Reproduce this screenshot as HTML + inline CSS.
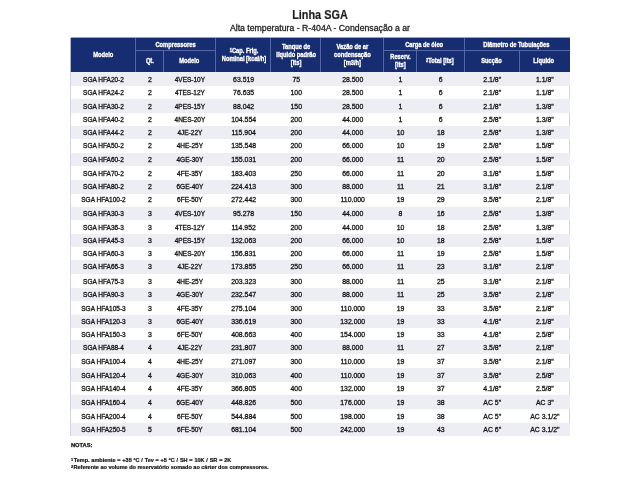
<!DOCTYPE html>
<html><head><meta charset="utf-8"><style>
*{margin:0;padding:0;box-sizing:border-box}
body>div{will-change:transform}
html,body{width:640px;height:480px;background:#fff;overflow:hidden;position:relative;font-family:"Liberation Sans",sans-serif}
.a{position:absolute}
.t{position:absolute;white-space:nowrap;text-align:center}
.h{position:absolute;display:flex;align-items:center;justify-content:center;color:#fff;font-weight:bold;font-size:7.0px;line-height:8px;text-align:center}
.h span{-webkit-text-stroke:0.35px #fff;position:relative;top:0.6px;display:inline-block;transform:scaleX(0.82);white-space:nowrap}
.r{position:absolute;left:70.5px;width:499.0px}
.c{-webkit-text-stroke:0.3px #161616;padding-top:0.4px;position:absolute;top:0;height:100%;display:flex;align-items:center;justify-content:center;font-size:6.5px;color:#161616;white-space:nowrap}
sup{font-size:70%;vertical-align:top;position:relative;top:-0.1em}
</style></head><body>
<div class="t" style="left:0;width:640px;top:8px;font-size:12.5px;font-weight:bold;color:#1e1e1e;line-height:14px"><span style="display:inline-block;transform:scaleX(0.87);-webkit-text-stroke:0.2px #1e1e1e">Linha SGA</span></div>
<div class="t" style="left:0;width:640px;top:22.5px;font-size:8.8px;color:#1e1e1e;line-height:10px"><span style="display:inline-block;transform:scaleX(0.99);-webkit-text-stroke:0.3px #1e1e1e">Alta temperatura - R-404A - Condensação a ar</span></div>

<div class="a" style="left:70.5px;top:37.5px;width:499.0px;height:34.3px;background:#172d72;box-shadow:0 -1px 0 rgba(23,45,114,0.45),-1px 0 0 rgba(23,45,114,0.35)"></div>
<div class="a" style="left:135.0px;top:37.5px;width:1px;height:34.3px;background:#5566a6"></div>
<div class="a" style="left:215.0px;top:37.5px;width:1px;height:34.3px;background:#5566a6"></div>
<div class="a" style="left:270.25px;top:37.5px;width:1px;height:34.3px;background:#5566a6"></div>
<div class="a" style="left:320.25px;top:37.5px;width:1px;height:34.3px;background:#5566a6"></div>
<div class="a" style="left:383.25px;top:37.5px;width:1px;height:34.3px;background:#5566a6"></div>
<div class="a" style="left:463.75px;top:37.5px;width:1px;height:34.3px;background:#5566a6"></div>
<div class="a" style="left:162.75px;top:50.25px;width:1px;height:21.549999999999997px;background:#5566a6"></div>
<div class="a" style="left:415.75px;top:50.25px;width:1px;height:21.549999999999997px;background:#5566a6"></div>
<div class="a" style="left:518.75px;top:50.25px;width:1px;height:21.549999999999997px;background:#5566a6"></div>
<div class="a" style="left:135.5px;top:49.75px;width:80.0px;height:1px;background:#5566a6"></div>
<div class="a" style="left:383.75px;top:49.75px;width:185.75px;height:1px;background:#5566a6"></div>
<div class="h" style="left:70.5px;top:37.5px;width:65.0px;height:34.3px"><span style="top:-0.3px">Modelo</span></div>
<div class="h" style="left:135.5px;top:37.5px;width:80.0px;height:12.75px"><span style="top:0.6px">Compressores</span></div>
<div class="h" style="left:135.5px;top:50.25px;width:27.75px;height:21.549999999999997px"><span style="top:0.6px">Qt.</span></div>
<div class="h" style="left:163.25px;top:50.25px;width:52.25px;height:21.549999999999997px"><span style="top:0.6px">Modelo</span></div>
<div class="h" style="left:215.5px;top:37.5px;width:55.25px;height:34.3px"><span style="top:0.2px"><sup>1</sup>Cap. Frig.<br>Nominal [kcal/h]</span></div>
<div class="h" style="left:270.75px;top:37.5px;width:50.0px;height:34.3px"><span style="top:-0.3px">Tanque de<br>líquido padrão<br>[lts]</span></div>
<div class="h" style="left:320.75px;top:37.5px;width:63.0px;height:34.3px"><span style="top:-0.2px">Vazão de ar<br>condensação<br>[m3/h]</span></div>
<div class="h" style="left:383.75px;top:37.5px;width:80.5px;height:12.75px"><span style="top:0.6px">Carga de óleo</span></div>
<div class="h" style="left:383.75px;top:50.25px;width:32.5px;height:21.549999999999997px"><span style="top:0.6px">Reserv.<br>[lts]</span></div>
<div class="h" style="left:416.25px;top:50.25px;width:48.0px;height:21.549999999999997px"><span style="top:0.6px"><sup>2</sup>Total [lts]</span></div>
<div class="h" style="left:464.25px;top:37.5px;width:105.25px;height:12.75px"><span style="top:0.6px">Diâmetro de Tubulações</span></div>
<div class="h" style="left:464.25px;top:50.25px;width:55.0px;height:21.549999999999997px"><span style="top:0.6px">Sucção</span></div>
<div class="h" style="left:519.25px;top:50.25px;width:50.25px;height:21.549999999999997px"><span style="top:0.6px">Líquido</span></div>
<div class="a" style="left:70.0px;top:71.8px;width:500.0px;height:364.0px;border:1px solid #d3d3e3;border-top:none"></div>
<div class="r" style="top:72.00px;height:13.70px;background:#ededf4"><div class="c" style="left:0.0px;width:65.0px">SGA HFA20-2</div><div class="c" style="left:65.0px;width:27.75px;font-size:6.9px">2</div><div class="c" style="left:92.75px;width:52.25px">4VES-10Y</div><div class="c" style="left:145.0px;width:55.25px;font-size:6.9px">63.519</div><div class="c" style="left:200.25px;width:50.0px;font-size:6.9px">75</div><div class="c" style="left:250.25px;width:63.0px;font-size:6.9px">28.500</div><div class="c" style="left:313.25px;width:32.5px;font-size:6.9px">1</div><div class="c" style="left:345.75px;width:48.0px;font-size:6.9px">6</div><div class="c" style="left:393.75px;width:55.0px;font-size:6.9px">2.1/8"</div><div class="c" style="left:448.75px;width:50.25px;font-size:6.9px">1.1/8"</div></div>
<div class="r" style="top:85.70px;height:13.05px;background:transparent"><div class="c" style="left:0.0px;width:65.0px">SGA HFA24-2</div><div class="c" style="left:65.0px;width:27.75px;font-size:6.9px">2</div><div class="c" style="left:92.75px;width:52.25px">4TES-12Y</div><div class="c" style="left:145.0px;width:55.25px;font-size:6.9px">76.635</div><div class="c" style="left:200.25px;width:50.0px;font-size:6.9px">100</div><div class="c" style="left:250.25px;width:63.0px;font-size:6.9px">28.500</div><div class="c" style="left:313.25px;width:32.5px;font-size:6.9px">1</div><div class="c" style="left:345.75px;width:48.0px;font-size:6.9px">6</div><div class="c" style="left:393.75px;width:55.0px;font-size:6.9px">2.1/8"</div><div class="c" style="left:448.75px;width:50.25px;font-size:6.9px">1.1/8"</div></div>
<div class="r" style="top:98.75px;height:13.75px;background:#ededf4"><div class="c" style="left:0.0px;width:65.0px">SGA HFA30-2</div><div class="c" style="left:65.0px;width:27.75px;font-size:6.9px">2</div><div class="c" style="left:92.75px;width:52.25px">4PES-15Y</div><div class="c" style="left:145.0px;width:55.25px;font-size:6.9px">88.042</div><div class="c" style="left:200.25px;width:50.0px;font-size:6.9px">150</div><div class="c" style="left:250.25px;width:63.0px;font-size:6.9px">28.500</div><div class="c" style="left:313.25px;width:32.5px;font-size:6.9px">1</div><div class="c" style="left:345.75px;width:48.0px;font-size:6.9px">6</div><div class="c" style="left:393.75px;width:55.0px;font-size:6.9px">2.1/8"</div><div class="c" style="left:448.75px;width:50.25px;font-size:6.9px">1.3/8"</div></div>
<div class="r" style="top:112.50px;height:13.10px;background:transparent"><div class="c" style="left:0.0px;width:65.0px">SGA HFA40-2</div><div class="c" style="left:65.0px;width:27.75px;font-size:6.9px">2</div><div class="c" style="left:92.75px;width:52.25px">4NES-20Y</div><div class="c" style="left:145.0px;width:55.25px;font-size:6.9px">104.554</div><div class="c" style="left:200.25px;width:50.0px;font-size:6.9px">200</div><div class="c" style="left:250.25px;width:63.0px;font-size:6.9px">44.000</div><div class="c" style="left:313.25px;width:32.5px;font-size:6.9px">1</div><div class="c" style="left:345.75px;width:48.0px;font-size:6.9px">6</div><div class="c" style="left:393.75px;width:55.0px;font-size:6.9px">2.5/8"</div><div class="c" style="left:448.75px;width:50.25px;font-size:6.9px">1.3/8"</div></div>
<div class="r" style="top:125.60px;height:13.40px;background:#ededf4"><div class="c" style="left:0.0px;width:65.0px">SGA HFA44-2</div><div class="c" style="left:65.0px;width:27.75px;font-size:6.9px">2</div><div class="c" style="left:92.75px;width:52.25px">4JE-22Y</div><div class="c" style="left:145.0px;width:55.25px;font-size:6.9px">115.904</div><div class="c" style="left:200.25px;width:50.0px;font-size:6.9px">200</div><div class="c" style="left:250.25px;width:63.0px;font-size:6.9px">44.000</div><div class="c" style="left:313.25px;width:32.5px;font-size:6.9px">10</div><div class="c" style="left:345.75px;width:48.0px;font-size:6.9px">18</div><div class="c" style="left:393.75px;width:55.0px;font-size:6.9px">2.5/8"</div><div class="c" style="left:448.75px;width:50.25px;font-size:6.9px">1.3/8"</div></div>
<div class="r" style="top:139.00px;height:13.55px;background:transparent"><div class="c" style="left:0.0px;width:65.0px">SGA HFA50-2</div><div class="c" style="left:65.0px;width:27.75px;font-size:6.9px">2</div><div class="c" style="left:92.75px;width:52.25px">4HE-25Y</div><div class="c" style="left:145.0px;width:55.25px;font-size:6.9px">135.548</div><div class="c" style="left:200.25px;width:50.0px;font-size:6.9px">200</div><div class="c" style="left:250.25px;width:63.0px;font-size:6.9px">66.000</div><div class="c" style="left:313.25px;width:32.5px;font-size:6.9px">10</div><div class="c" style="left:345.75px;width:48.0px;font-size:6.9px">19</div><div class="c" style="left:393.75px;width:55.0px;font-size:6.9px">2.5/8"</div><div class="c" style="left:448.75px;width:50.25px;font-size:6.9px">1.5/8"</div></div>
<div class="r" style="top:152.55px;height:13.05px;background:#ededf4"><div class="c" style="left:0.0px;width:65.0px">SGA HFA60-2</div><div class="c" style="left:65.0px;width:27.75px;font-size:6.9px">2</div><div class="c" style="left:92.75px;width:52.25px">4GE-30Y</div><div class="c" style="left:145.0px;width:55.25px;font-size:6.9px">155.031</div><div class="c" style="left:200.25px;width:50.0px;font-size:6.9px">200</div><div class="c" style="left:250.25px;width:63.0px;font-size:6.9px">66.000</div><div class="c" style="left:313.25px;width:32.5px;font-size:6.9px">11</div><div class="c" style="left:345.75px;width:48.0px;font-size:6.9px">20</div><div class="c" style="left:393.75px;width:55.0px;font-size:6.9px">2.5/8"</div><div class="c" style="left:448.75px;width:50.25px;font-size:6.9px">1.5/8"</div></div>
<div class="r" style="top:165.60px;height:14.10px;background:transparent"><div class="c" style="left:0.0px;width:65.0px">SGA HFA70-2</div><div class="c" style="left:65.0px;width:27.75px;font-size:6.9px">2</div><div class="c" style="left:92.75px;width:52.25px">4FE-35Y</div><div class="c" style="left:145.0px;width:55.25px;font-size:6.9px">183.403</div><div class="c" style="left:200.25px;width:50.0px;font-size:6.9px">250</div><div class="c" style="left:250.25px;width:63.0px;font-size:6.9px">66.000</div><div class="c" style="left:313.25px;width:32.5px;font-size:6.9px">11</div><div class="c" style="left:345.75px;width:48.0px;font-size:6.9px">20</div><div class="c" style="left:393.75px;width:55.0px;font-size:6.9px">3.1/8"</div><div class="c" style="left:448.75px;width:50.25px;font-size:6.9px">1.5/8"</div></div>
<div class="r" style="top:179.70px;height:13.50px;background:#ededf4"><div class="c" style="left:0.0px;width:65.0px">SGA HFA80-2</div><div class="c" style="left:65.0px;width:27.75px;font-size:6.9px">2</div><div class="c" style="left:92.75px;width:52.25px">6GE-40Y</div><div class="c" style="left:145.0px;width:55.25px;font-size:6.9px">224.413</div><div class="c" style="left:200.25px;width:50.0px;font-size:6.9px">300</div><div class="c" style="left:250.25px;width:63.0px;font-size:6.9px">88.000</div><div class="c" style="left:313.25px;width:32.5px;font-size:6.9px">11</div><div class="c" style="left:345.75px;width:48.0px;font-size:6.9px">21</div><div class="c" style="left:393.75px;width:55.0px;font-size:6.9px">3.1/8"</div><div class="c" style="left:448.75px;width:50.25px;font-size:6.9px">2.1/8"</div></div>
<div class="r" style="top:193.20px;height:13.60px;background:transparent"><div class="c" style="left:0.0px;width:65.0px">SGA HFA100-2</div><div class="c" style="left:65.0px;width:27.75px;font-size:6.9px">2</div><div class="c" style="left:92.75px;width:52.25px">6FE-50Y</div><div class="c" style="left:145.0px;width:55.25px;font-size:6.9px">272.442</div><div class="c" style="left:200.25px;width:50.0px;font-size:6.9px">300</div><div class="c" style="left:250.25px;width:63.0px;font-size:6.9px">110.000</div><div class="c" style="left:313.25px;width:32.5px;font-size:6.9px">19</div><div class="c" style="left:345.75px;width:48.0px;font-size:6.9px">29</div><div class="c" style="left:393.75px;width:55.0px;font-size:6.9px">3.5/8"</div><div class="c" style="left:448.75px;width:50.25px;font-size:6.9px">2.1/8"</div></div>
<div class="r" style="top:206.80px;height:13.00px;background:#ededf4"><div class="c" style="left:0.0px;width:65.0px">SGA HFA30-3</div><div class="c" style="left:65.0px;width:27.75px;font-size:6.9px">3</div><div class="c" style="left:92.75px;width:52.25px">4VES-10Y</div><div class="c" style="left:145.0px;width:55.25px;font-size:6.9px">95.278</div><div class="c" style="left:200.25px;width:50.0px;font-size:6.9px">150</div><div class="c" style="left:250.25px;width:63.0px;font-size:6.9px">44.000</div><div class="c" style="left:313.25px;width:32.5px;font-size:6.9px">8</div><div class="c" style="left:345.75px;width:48.0px;font-size:6.9px">16</div><div class="c" style="left:393.75px;width:55.0px;font-size:6.9px">2.5/8"</div><div class="c" style="left:448.75px;width:50.25px;font-size:6.9px">1.3/8"</div></div>
<div class="r" style="top:219.80px;height:14.10px;background:transparent"><div class="c" style="left:0.0px;width:65.0px">SGA HFA36-3</div><div class="c" style="left:65.0px;width:27.75px;font-size:6.9px">3</div><div class="c" style="left:92.75px;width:52.25px">4TES-12Y</div><div class="c" style="left:145.0px;width:55.25px;font-size:6.9px">114.952</div><div class="c" style="left:200.25px;width:50.0px;font-size:6.9px">200</div><div class="c" style="left:250.25px;width:63.0px;font-size:6.9px">44.000</div><div class="c" style="left:313.25px;width:32.5px;font-size:6.9px">10</div><div class="c" style="left:345.75px;width:48.0px;font-size:6.9px">18</div><div class="c" style="left:393.75px;width:55.0px;font-size:6.9px">2.5/8"</div><div class="c" style="left:448.75px;width:50.25px;font-size:6.9px">1.3/8"</div></div>
<div class="r" style="top:233.90px;height:13.00px;background:#ededf4"><div class="c" style="left:0.0px;width:65.0px">SGA HFA45-3</div><div class="c" style="left:65.0px;width:27.75px;font-size:6.9px">3</div><div class="c" style="left:92.75px;width:52.25px">4PES-15Y</div><div class="c" style="left:145.0px;width:55.25px;font-size:6.9px">132.063</div><div class="c" style="left:200.25px;width:50.0px;font-size:6.9px">200</div><div class="c" style="left:250.25px;width:63.0px;font-size:6.9px">66.000</div><div class="c" style="left:313.25px;width:32.5px;font-size:6.9px">10</div><div class="c" style="left:345.75px;width:48.0px;font-size:6.9px">18</div><div class="c" style="left:393.75px;width:55.0px;font-size:6.9px">2.5/8"</div><div class="c" style="left:448.75px;width:50.25px;font-size:6.9px">1.5/8"</div></div>
<div class="r" style="top:246.90px;height:13.50px;background:transparent"><div class="c" style="left:0.0px;width:65.0px">SGA HFA60-3</div><div class="c" style="left:65.0px;width:27.75px;font-size:6.9px">3</div><div class="c" style="left:92.75px;width:52.25px">4NES-20Y</div><div class="c" style="left:145.0px;width:55.25px;font-size:6.9px">156.831</div><div class="c" style="left:200.25px;width:50.0px;font-size:6.9px">200</div><div class="c" style="left:250.25px;width:63.0px;font-size:6.9px">66.000</div><div class="c" style="left:313.25px;width:32.5px;font-size:6.9px">11</div><div class="c" style="left:345.75px;width:48.0px;font-size:6.9px">19</div><div class="c" style="left:393.75px;width:55.0px;font-size:6.9px">2.5/8"</div><div class="c" style="left:448.75px;width:50.25px;font-size:6.9px">1.5/8"</div></div>
<div class="r" style="top:260.40px;height:13.60px;background:#ededf4"><div class="c" style="left:0.0px;width:65.0px">SGA HFA66-3</div><div class="c" style="left:65.0px;width:27.75px;font-size:6.9px">3</div><div class="c" style="left:92.75px;width:52.25px">4JE-22Y</div><div class="c" style="left:145.0px;width:55.25px;font-size:6.9px">173.855</div><div class="c" style="left:200.25px;width:50.0px;font-size:6.9px">250</div><div class="c" style="left:250.25px;width:63.0px;font-size:6.9px">66.000</div><div class="c" style="left:313.25px;width:32.5px;font-size:6.9px">11</div><div class="c" style="left:345.75px;width:48.0px;font-size:6.9px">23</div><div class="c" style="left:393.75px;width:55.0px;font-size:6.9px">3.1/8"</div><div class="c" style="left:448.75px;width:50.25px;font-size:6.9px">2.1/8"</div></div>
<div class="r" style="top:274.00px;height:14.00px;background:transparent"><div class="c" style="left:0.0px;width:65.0px">SGA HFA75-3</div><div class="c" style="left:65.0px;width:27.75px;font-size:6.9px">3</div><div class="c" style="left:92.75px;width:52.25px">4HE-25Y</div><div class="c" style="left:145.0px;width:55.25px;font-size:6.9px">203.323</div><div class="c" style="left:200.25px;width:50.0px;font-size:6.9px">300</div><div class="c" style="left:250.25px;width:63.0px;font-size:6.9px">88.000</div><div class="c" style="left:313.25px;width:32.5px;font-size:6.9px">11</div><div class="c" style="left:345.75px;width:48.0px;font-size:6.9px">25</div><div class="c" style="left:393.75px;width:55.0px;font-size:6.9px">3.1/8"</div><div class="c" style="left:448.75px;width:50.25px;font-size:6.9px">2.1/8"</div></div>
<div class="r" style="top:288.00px;height:12.70px;background:#ededf4"><div class="c" style="left:0.0px;width:65.0px">SGA HFA90-3</div><div class="c" style="left:65.0px;width:27.75px;font-size:6.9px">3</div><div class="c" style="left:92.75px;width:52.25px">4GE-30Y</div><div class="c" style="left:145.0px;width:55.25px;font-size:6.9px">232.547</div><div class="c" style="left:200.25px;width:50.0px;font-size:6.9px">300</div><div class="c" style="left:250.25px;width:63.0px;font-size:6.9px">88.000</div><div class="c" style="left:313.25px;width:32.5px;font-size:6.9px">11</div><div class="c" style="left:345.75px;width:48.0px;font-size:6.9px">25</div><div class="c" style="left:393.75px;width:55.0px;font-size:6.9px">3.5/8"</div><div class="c" style="left:448.75px;width:50.25px;font-size:6.9px">2.1/8"</div></div>
<div class="r" style="top:300.70px;height:14.10px;background:transparent"><div class="c" style="left:0.0px;width:65.0px">SGA HFA105-3</div><div class="c" style="left:65.0px;width:27.75px;font-size:6.9px">3</div><div class="c" style="left:92.75px;width:52.25px">4FE-35Y</div><div class="c" style="left:145.0px;width:55.25px;font-size:6.9px">275.104</div><div class="c" style="left:200.25px;width:50.0px;font-size:6.9px">300</div><div class="c" style="left:250.25px;width:63.0px;font-size:6.9px">110.000</div><div class="c" style="left:313.25px;width:32.5px;font-size:6.9px">19</div><div class="c" style="left:345.75px;width:48.0px;font-size:6.9px">33</div><div class="c" style="left:393.75px;width:55.0px;font-size:6.9px">3.5/8"</div><div class="c" style="left:448.75px;width:50.25px;font-size:6.9px">2.1/8"</div></div>
<div class="r" style="top:314.80px;height:13.20px;background:#ededf4"><div class="c" style="left:0.0px;width:65.0px">SGA HFA120-3</div><div class="c" style="left:65.0px;width:27.75px;font-size:6.9px">3</div><div class="c" style="left:92.75px;width:52.25px">6GE-40Y</div><div class="c" style="left:145.0px;width:55.25px;font-size:6.9px">336.619</div><div class="c" style="left:200.25px;width:50.0px;font-size:6.9px">300</div><div class="c" style="left:250.25px;width:63.0px;font-size:6.9px">132.000</div><div class="c" style="left:313.25px;width:32.5px;font-size:6.9px">19</div><div class="c" style="left:345.75px;width:48.0px;font-size:6.9px">33</div><div class="c" style="left:393.75px;width:55.0px;font-size:6.9px">4.1/8"</div><div class="c" style="left:448.75px;width:50.25px;font-size:6.9px">2.1/8"</div></div>
<div class="r" style="top:328.00px;height:12.40px;background:transparent"><div class="c" style="left:0.0px;width:65.0px">SGA HFA150-3</div><div class="c" style="left:65.0px;width:27.75px;font-size:6.9px">3</div><div class="c" style="left:92.75px;width:52.25px">6FE-50Y</div><div class="c" style="left:145.0px;width:55.25px;font-size:6.9px">408.663</div><div class="c" style="left:200.25px;width:50.0px;font-size:6.9px">400</div><div class="c" style="left:250.25px;width:63.0px;font-size:6.9px">154.000</div><div class="c" style="left:313.25px;width:32.5px;font-size:6.9px">19</div><div class="c" style="left:345.75px;width:48.0px;font-size:6.9px">33</div><div class="c" style="left:393.75px;width:55.0px;font-size:6.9px">4.1/8"</div><div class="c" style="left:448.75px;width:50.25px;font-size:6.9px">2.5/8"</div></div>
<div class="r" style="top:340.40px;height:14.10px;background:#ededf4"><div class="c" style="left:0.0px;width:65.0px">SGA HFA88-4</div><div class="c" style="left:65.0px;width:27.75px;font-size:6.9px">4</div><div class="c" style="left:92.75px;width:52.25px">4JE-22Y</div><div class="c" style="left:145.0px;width:55.25px;font-size:6.9px">231.807</div><div class="c" style="left:200.25px;width:50.0px;font-size:6.9px">300</div><div class="c" style="left:250.25px;width:63.0px;font-size:6.9px">88.000</div><div class="c" style="left:313.25px;width:32.5px;font-size:6.9px">11</div><div class="c" style="left:345.75px;width:48.0px;font-size:6.9px">27</div><div class="c" style="left:393.75px;width:55.0px;font-size:6.9px">3.5/8"</div><div class="c" style="left:448.75px;width:50.25px;font-size:6.9px">2.1/8"</div></div>
<div class="r" style="top:354.50px;height:13.50px;background:transparent"><div class="c" style="left:0.0px;width:65.0px">SGA HFA100-4</div><div class="c" style="left:65.0px;width:27.75px;font-size:6.9px">4</div><div class="c" style="left:92.75px;width:52.25px">4HE-25Y</div><div class="c" style="left:145.0px;width:55.25px;font-size:6.9px">271.097</div><div class="c" style="left:200.25px;width:50.0px;font-size:6.9px">300</div><div class="c" style="left:250.25px;width:63.0px;font-size:6.9px">110.000</div><div class="c" style="left:313.25px;width:32.5px;font-size:6.9px">19</div><div class="c" style="left:345.75px;width:48.0px;font-size:6.9px">37</div><div class="c" style="left:393.75px;width:55.0px;font-size:6.9px">3.5/8"</div><div class="c" style="left:448.75px;width:50.25px;font-size:6.9px">2.1/8"</div></div>
<div class="r" style="top:368.00px;height:13.70px;background:#ededf4"><div class="c" style="left:0.0px;width:65.0px">SGA HFA120-4</div><div class="c" style="left:65.0px;width:27.75px;font-size:6.9px">4</div><div class="c" style="left:92.75px;width:52.25px">4GE-30Y</div><div class="c" style="left:145.0px;width:55.25px;font-size:6.9px">310.063</div><div class="c" style="left:200.25px;width:50.0px;font-size:6.9px">400</div><div class="c" style="left:250.25px;width:63.0px;font-size:6.9px">110.000</div><div class="c" style="left:313.25px;width:32.5px;font-size:6.9px">19</div><div class="c" style="left:345.75px;width:48.0px;font-size:6.9px">37</div><div class="c" style="left:393.75px;width:55.0px;font-size:6.9px">3.5/8"</div><div class="c" style="left:448.75px;width:50.25px;font-size:6.9px">2.5/8"</div></div>
<div class="r" style="top:381.70px;height:13.30px;background:transparent"><div class="c" style="left:0.0px;width:65.0px">SGA HFA140-4</div><div class="c" style="left:65.0px;width:27.75px;font-size:6.9px">4</div><div class="c" style="left:92.75px;width:52.25px">4FE-35Y</div><div class="c" style="left:145.0px;width:55.25px;font-size:6.9px">366.805</div><div class="c" style="left:200.25px;width:50.0px;font-size:6.9px">400</div><div class="c" style="left:250.25px;width:63.0px;font-size:6.9px">132.000</div><div class="c" style="left:313.25px;width:32.5px;font-size:6.9px">19</div><div class="c" style="left:345.75px;width:48.0px;font-size:6.9px">37</div><div class="c" style="left:393.75px;width:55.0px;font-size:6.9px">4.1/8"</div><div class="c" style="left:448.75px;width:50.25px;font-size:6.9px">2.5/8"</div></div>
<div class="r" style="top:395.00px;height:13.75px;background:#ededf4"><div class="c" style="left:0.0px;width:65.0px">SGA HFA160-4</div><div class="c" style="left:65.0px;width:27.75px;font-size:6.9px">4</div><div class="c" style="left:92.75px;width:52.25px">6GE-40Y</div><div class="c" style="left:145.0px;width:55.25px;font-size:6.9px">448.826</div><div class="c" style="left:200.25px;width:50.0px;font-size:6.9px">500</div><div class="c" style="left:250.25px;width:63.0px;font-size:6.9px">176.000</div><div class="c" style="left:313.25px;width:32.5px;font-size:6.9px">19</div><div class="c" style="left:345.75px;width:48.0px;font-size:6.9px">38</div><div class="c" style="left:393.75px;width:55.0px;font-size:6.9px">AC 5"</div><div class="c" style="left:448.75px;width:50.25px;font-size:6.9px">AC 3"</div></div>
<div class="r" style="top:408.75px;height:14.05px;background:transparent"><div class="c" style="left:0.0px;width:65.0px">SGA HFA200-4</div><div class="c" style="left:65.0px;width:27.75px;font-size:6.9px">4</div><div class="c" style="left:92.75px;width:52.25px">6FE-50Y</div><div class="c" style="left:145.0px;width:55.25px;font-size:6.9px">544.884</div><div class="c" style="left:200.25px;width:50.0px;font-size:6.9px">500</div><div class="c" style="left:250.25px;width:63.0px;font-size:6.9px">198.000</div><div class="c" style="left:313.25px;width:32.5px;font-size:6.9px">19</div><div class="c" style="left:345.75px;width:48.0px;font-size:6.9px">38</div><div class="c" style="left:393.75px;width:55.0px;font-size:6.9px">AC 5"</div><div class="c" style="left:448.75px;width:50.25px;font-size:6.9px">AC 3.1/2"</div></div>
<div class="r" style="top:422.80px;height:12.80px;background:#ededf4"><div class="c" style="left:0.0px;width:65.0px">SGA HFA250-5</div><div class="c" style="left:65.0px;width:27.75px;font-size:6.9px">5</div><div class="c" style="left:92.75px;width:52.25px">6FE-50Y</div><div class="c" style="left:145.0px;width:55.25px;font-size:6.9px">681.104</div><div class="c" style="left:200.25px;width:50.0px;font-size:6.9px">500</div><div class="c" style="left:250.25px;width:63.0px;font-size:6.9px">242.000</div><div class="c" style="left:313.25px;width:32.5px;font-size:6.9px">19</div><div class="c" style="left:345.75px;width:48.0px;font-size:6.9px">43</div><div class="c" style="left:393.75px;width:55.0px;font-size:6.9px">AC 6"</div><div class="c" style="left:448.75px;width:50.25px;font-size:6.9px">AC 3.1/2"</div></div>
<div class="a" style="left:70.5px;top:441.5px;font-size:5.7px;font-weight:bold;color:#111;line-height:7px;-webkit-text-stroke:0.25px #111">NOTAS:</div>
<div class="a" style="left:70.5px;top:456.8px;font-size:5.5px;font-weight:bold;color:#111;line-height:7.2px;-webkit-text-stroke:0.2px #111;white-space:nowrap"><span style="word-spacing:0.3px"><sup style="margin-right:0.6px">1</sup>Temp. ambiente = +35 ºC / Tev = +5 ºC / SH = 10K / SR = 2K</span><br><sup style="margin-right:0.4px">2</sup>Referente ao volume do reservatório somado ao cárter dos compressores.</div>

</body></html>
